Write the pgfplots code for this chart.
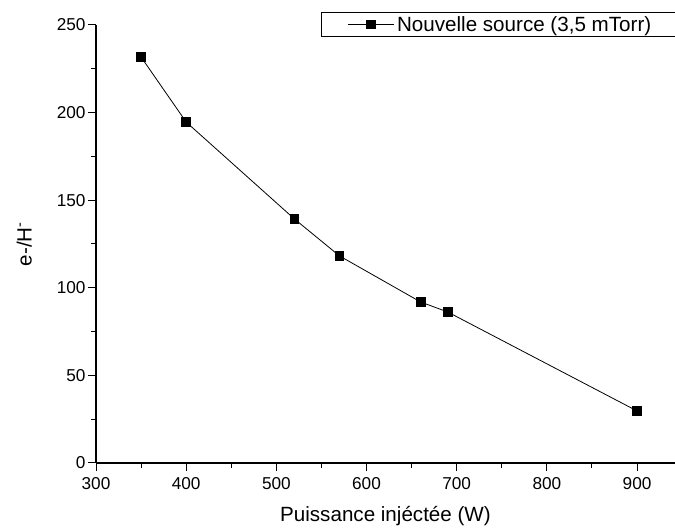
\documentclass[border=0pt]{standalone}
\usepackage{pgfplots}
\pgfplotsset{compat=1.18}
\usepackage{fontspec}
\setmainfont{Liberation Sans}
\begin{document}
\begin{tikzpicture}[x=1bp,y=1bp]
\useasboundingbox (0,0) rectangle (675,529);
\begin{axis}[
  at={(96bp,66bp)}, anchor=origin,
  scale only axis, width=579bp, height=438bp,
  xmin=300, xmax=942.1, ymin=0, ymax=250,
  axis x line=bottom, axis y line=left,
  axis line style={-, line width=1.3bp},
  xtick={300,400,...,900}, ytick={0,50,...,250},
  minor xtick={350,450,...,850}, minor ytick={25,75,...,225},
  tick align=outside,
  major tick length=8bp, minor tick length=5bp,
  tick style={black, line width=1bp},
  /pgf/number format/assume math mode=true,
  ticklabel style={font=\fontsize{17.2bp}{20bp}\selectfont},
  xticklabel style={yshift=-3bp},
  yticklabel style={xshift=1bp},
  xlabel={Puissance injéctée (W)},
  ylabel={e-/H\textsuperscript{-}},
  label style={font=\fontsize{20.6bp}{25bp}\selectfont},
  xlabel style={yshift=-10bp},
  ylabel style={yshift=18bp},
  clip=false,
  legend style={at={(rel axis cs:0.3886,1.0297)}, anchor=north west,
    draw=black, line width=0.6bp, font=\fontsize{20.6bp}{24bp}\selectfont,
    inner ysep=2bp, inner xsep=26bp,
    nodes={inner xsep=3bp}},
  legend image code/.code={\draw[#1, mark repeat=2, mark phase=2] plot coordinates {(0bp,0bp)(23bp,0bp)(46bp,0bp)};},
]
\addplot[black, line width=0.8bp, mark=square*, mark size=4.3bp, mark options={solid, fill=black}]
  coordinates {(350,231.7) (400,194.6) (520,139.3) (570,118.2) (660,91.9) (690,86.2) (900,29.7)};
\addlegendentry{\makebox[290bp][l]{Nouvelle source (3,5 mTorr)}}
\end{axis}
\end{tikzpicture}
\end{document}
